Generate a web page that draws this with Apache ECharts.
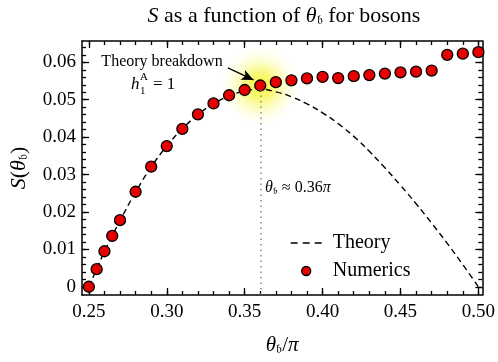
<!DOCTYPE html>
<html>
<head>
<meta charset="utf-8">
<script src="https://cdn.jsdelivr.net/npm/echarts@6/dist/echarts.min.js"></script>
<style>
  html, body { margin: 0; padding: 0; background: #fff; }
  #echart { width: 498px; height: 362px; }
</style>
</head>
<body>
<div id="echart"></div>
<script>
var serif = '"Liberation Serif", "DejaVu Serif", serif';

// numerics (red dots)
var thetaNum = [0.25, 0.255, 0.26, 0.265, 0.27, 0.28, 0.29, 0.30, 0.31, 0.32, 0.33, 0.34, 0.35, 0.36,
  0.37, 0.38, 0.39, 0.40, 0.41, 0.42, 0.43, 0.44, 0.45, 0.46, 0.47, 0.48, 0.49, 0.50];
var sNum = [0, 0.0047, 0.0095, 0.0136, 0.0178, 0.0254, 0.0321, 0.0376, 0.0422, 0.0461, 0.0490, 0.0512, 0.0526, 0.0538,
  0.0547, 0.0552, 0.0557, 0.0561, 0.0558, 0.0563, 0.0566, 0.0570, 0.0573, 0.0575, 0.0578, 0.0620, 0.0623, 0.0627];

// theory (dashed)
var thetaTh = [0.25, 0.255, 0.26, 0.265, 0.27, 0.28, 0.29, 0.30, 0.31, 0.32, 0.33, 0.34, 0.35, 0.36,
  0.37, 0.38, 0.39, 0.40, 0.41, 0.42, 0.43, 0.44, 0.45, 0.46, 0.47, 0.48, 0.49, 0.50];
var sTh = [0, 0.0047, 0.0094, 0.0136, 0.0177, 0.0253, 0.0320, 0.0376, 0.0422, 0.0460, 0.0489, 0.0510, 0.0523, 0.0528,
  0.0521, 0.0508, 0.0489, 0.0465, 0.0436, 0.0402, 0.0362, 0.0318, 0.0271, 0.0222, 0.0170, 0.0116, 0.0059, 0];

// breakdown marker
var breakdownTheta = 0.36;
var breakdownS = 0.0537;

// ticks
var xMajor = [0.25, 0.30, 0.35, 0.40, 0.45, 0.50];
var xMinor = [0.25, 0.26, 0.27, 0.28, 0.29, 0.30, 0.31, 0.32, 0.33, 0.34, 0.35, 0.36, 0.37, 0.38, 0.39,
  0.40, 0.41, 0.42, 0.43, 0.44, 0.45, 0.46, 0.47, 0.48, 0.49, 0.50];
var yMajor = [0, 0.01, 0.02, 0.03, 0.04, 0.05, 0.06];
var yMinor = [0, 0.002, 0.004, 0.006, 0.008, 0.01, 0.012, 0.014, 0.016, 0.018, 0.02, 0.022, 0.024, 0.026, 0.028,
  0.03, 0.032, 0.034, 0.036, 0.038, 0.04, 0.042, 0.044, 0.046, 0.048, 0.05, 0.052, 0.054, 0.056, 0.058, 0.06,
  0.062, 0.064];

var xMin = 0.2456, xMax = 0.5025;
var yMin = -0.0022, yMax = 0.0657;

var myChart = echarts.init(document.getElementById('echart'));

function rich(size) {
  return {
    it: { fontFamily: serif, fontStyle: 'italic', fontWeight: 'normal', fontSize: size, color: '#000' },
    n: { fontFamily: serif, fontWeight: 'normal', fontSize: size, color: '#000' },
    sub: { fontFamily: serif, fontWeight: 'normal', fontSize: Math.round(size * 0.6), color: '#000',
      verticalAlign: 'bottom', padding: [Math.round(size * 0.4), 0, 0, 0] }
  };
}

function makeAxis(kind, pos, major, isMajor, showLabel, extra) {
  var a = {
    type: 'value',
    position: pos,
    min: kind === 'x' ? xMin : yMin,
    max: kind === 'x' ? xMax : yMax,
    splitLine: { show: false },
    axisLine: { show: isMajor, onZero: false, lineStyle: { color: '#000', width: 1.5 } },
    axisTick: {
      show: true, inside: true, length: isMajor ? 7 : 4,
      customValues: major,
      lineStyle: { color: '#000', width: 1.3 }
    },
    axisLabel: { show: false }
  };
  if (showLabel) {
    a.axisLabel = {
      show: true,
      customValues: major,
      fontFamily: serif, fontSize: 19, color: '#000',
      margin: kind === 'x' ? 8 : 6,
      formatter: function (v) { return v === 0 ? '0' : v.toFixed(2); }
    };
  }
  if (extra) { for (var k in extra) a[k] = extra[k]; }
  return a;
}

var glow = new echarts.graphic.RadialGradient(0.5, 0.5, 0.5, [
  { offset: 0, color: 'rgba(240,240,0,1)' },
  { offset: 0.35, color: 'rgba(244,244,40,0.75)' },
  { offset: 0.7, color: 'rgba(250,250,120,0.3)' },
  { offset: 1, color: 'rgba(255,255,200,0)' }
]);

option = {
  animation: false,
  title: {
    text: '{it|S}{n| as a function of }{it|θ}{sub|𝔟}{n| for bosons}',
    left: 279, textAlign: 'center', top: 0,
    textStyle: { fontWeight: 'normal', rich: rich(22) }
  },
  grid: { left: 79, right: 13, top: 41, bottom: 67, containLabel: false },
  legend: {
    orient: 'vertical',
    left: 285, top: 228,
    itemWidth: 31, itemHeight: 9, itemGap: 8,
    data: [
      { name: 'Theory', itemStyle: { opacity: 0 }, lineStyle: { color: '#000', width: 1.4, type: [7, 5] } },
      { name: 'Numerics', itemStyle: { color: '#e60000', borderColor: '#000', borderWidth: 1.3 } }
    ],
    textStyle: { fontFamily: serif, fontSize: 20, color: '#000', padding: [0, 0, 0, 6] }
  },
  xAxis: [
    makeAxis('x', 'bottom', xMajor, true, true, {
      name: '{it|θ}{sub|𝔟}{n|/}{it|π}', nameLocation: 'middle', nameGap: 40,
      nameTextStyle: { rich: rich(21) }
    }),
    makeAxis('x', 'bottom', xMinor, false, false),
    makeAxis('x', 'top', xMajor, true, false),
    makeAxis('x', 'top', xMinor, false, false)
  ],
  yAxis: [
    makeAxis('y', 'left', yMajor, true, true, {
      name: '{it|S}{n|(}{it|θ}{sub|𝔟}{n|)}', nameLocation: 'middle', nameGap: 52,
      nameTextStyle: { rich: rich(22) }
    }),
    makeAxis('y', 'left', yMinor, false, false),
    makeAxis('y', 'right', yMajor, true, false),
    makeAxis('y', 'right', yMinor, false, false)
  ],
  series: [
    {
      name: 'glow',
      type: 'scatter',
      z: 0,
      silent: true,
      symbolSize: 80,
      itemStyle: { color: glow },
      data: [[breakdownTheta, breakdownS]]
    },
    {
      name: 'Theory',
      type: 'line',
      z: 2,
      smooth: true,
      showSymbol: false,
      symbol: 'none',
      lineStyle: { color: '#000', width: 1.4, type: [6, 4] },
      itemStyle: { color: '#000' },
      data: thetaTh.map(function (t, i) { return [t, sTh[i]]; }),
      markLine: {
        silent: true,
        symbol: ['none', 'none'],
        label: { show: false },
        lineStyle: { color: '#888', type: [1.5, 4], width: 1.5 },
        data: [[{ coord: [breakdownTheta, yMin] }, { coord: [breakdownTheta, 0.0528] }]]
      }
    },
    {
      name: 'Numerics',
      type: 'scatter',
      z: 3,
      symbolSize: 11,
      itemStyle: { color: '#e60000', borderColor: '#000', borderWidth: 1.3, opacity: 1 },
      data: thetaNum.map(function (t, i) { return [t, sNum[i]]; }),
      markLine: {
        silent: true,
        symbol: ['none', 'arrow'],
        symbolSize: [8, 12],
        label: { show: false },
        lineStyle: { color: '#000', type: 'solid', width: 1.3 },
        data: [[{ coord: [0.3392, 0.0585] }, { coord: [0.3557, 0.0553] }]]
      }
    }
  ],
  graphic: [
    {
      type: 'text', x: 162, y: 62,
      style: { text: 'Theory breakdown', font: '16px ' + serif, fill: '#000', align: 'center', verticalAlign: 'middle' }
    },
    {
      type: 'text', x: 131, y: 85,
      style: { text: 'h', font: 'italic 17px ' + serif, fill: '#000', verticalAlign: 'middle' }
    },
    {
      type: 'text', x: 140, y: 77,
      style: { text: 'A', font: '11px ' + serif, fill: '#000', verticalAlign: 'middle' }
    },
    {
      type: 'text', x: 140, y: 91,
      style: { text: '1', font: '11px ' + serif, fill: '#000', verticalAlign: 'middle' }
    },
    {
      type: 'text', x: 153, y: 85,
      style: { text: '= 1', font: '17px ' + serif, fill: '#000', verticalAlign: 'middle' }
    },
    {
      type: 'text', x: 265, y: 188,
      style: {
        text: '{it|θ}{sub|𝔟}{n| ≈ 0.36}{it|π}',
        verticalAlign: 'middle',
        rich: {
          it: { fontFamily: serif, fontStyle: 'italic', fontSize: 16, fill: '#000' },
          n: { fontFamily: serif, fontSize: 16, fill: '#000' },
          sub: { fontFamily: serif, fontSize: 10, fill: '#000', verticalAlign: 'bottom', padding: [6, 0, 0, 0] }
        }
      }
    }
  ]
};

myChart.setOption(option);
</script>
</body>
</html>
